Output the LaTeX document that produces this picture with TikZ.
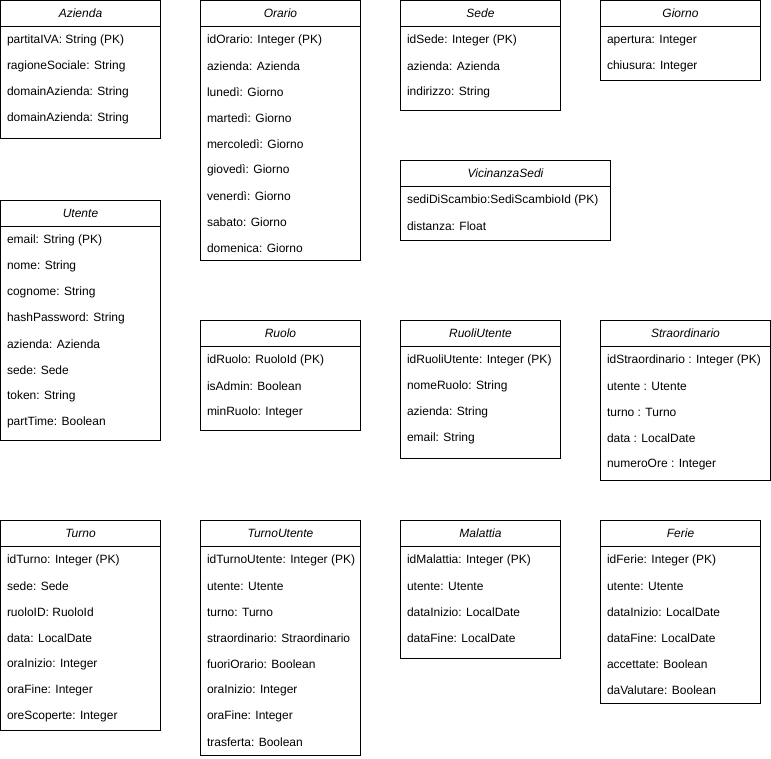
\documentclass[tikz,border=0pt]{standalone}
\usepackage{fontspec}
\setmainfont{Liberation Sans}
\usetikzlibrary{positioning}

\begin{document}
\begin{tikzpicture}[
				x = 1pt, y = 1pt, % one unit is one pixel
				line width = 1pt, % box border
				font=\fontsize{12}{14}\selectfont,
				classtitle/.style = {draw = black, fill = white, anchor = north west,
					minimum height = 26pt, inner sep = 0pt, outer sep = 0pt, font=\fontsize{12}{14}\selectfont\itshape},
				classbody/.style = {draw = black, fill = white, inner sep = 0pt, outer sep = 0pt},
				attr/.style = {anchor = west, inner sep = 0pt}
				]
				
				\useasboundingbox (0,0) rectangle (771,-758);
				
				% first row
				\node[classtitle, minimum width=160pt] (azienda) at (0.5,-0.5) {Azienda};
				\node[classbody, minimum width=160pt, minimum height=112pt, below=0pt of azienda] (aziendaBody) {};
				\foreach \a [count=\i from 0] in {partitaIVA: String (PK), ragioneSociale: String, domainAzienda: String, domainAzienda: String}
					\node[attr] (azienda\i) at ([xshift=6pt, yshift={-14-26*\i}]aziendaBody.north west) {\a};
				
				\node[classtitle, minimum width=160pt] (orario) at (200.5,-0.5) {Orario};
				\node[classbody, minimum width=160pt, minimum height=234pt, below=0pt of orario] (orarioBody) {};
				\foreach \a [count=\i from 0] in {idOrario: Integer (PK), azienda: Azienda, lunedì: Giorno, martedì: Giorno, mercoledì: Giorno, giovedì: Giorno, venerdì: Giorno, sabato: Giorno, domenica: Giorno}
					\node[attr] (orario\i) at ([xshift=6pt, yshift={-14-26*\i}]orarioBody.north west) {\a};
				
				\node[classtitle, minimum width=160pt] (sede) at (400.5,-0.5) {Sede};
				\node[classbody, minimum width=160pt, minimum height=84pt, below=0pt of sede] (sedeBody) {};
				\foreach \a [count=\i from 0] in {idSede: Integer (PK), azienda: Azienda, indirizzo: String}
					\node[attr] (sede\i) at ([xshift=6pt, yshift={-14-26*\i}]sedeBody.north west) {\a};
				
				\node[classtitle, minimum width=160pt] (giorno) at (600.5,-0.5) {Giorno};
				\node[classbody, minimum width=160pt, minimum height=54pt, below=0pt of giorno] (giornoBody) {};
				\foreach \a [count=\i from 0] in {apertura: Integer, chiusura: Integer}
					\node[attr] (giorno\i) at ([xshift=6pt, yshift={-14-26*\i}]giornoBody.north west) {\a};
				
				\node[classtitle, minimum width=210pt] (vicinanza) at (400.5,-160.5) {VicinanzaSedi};
				\node[classbody, minimum width=210pt, minimum height=54pt, below=0pt of vicinanza] (vicinanzaBody) {};
				\foreach \a [count=\i from 0] in {sediDiScambio:SediScambioId (PK), distanza: Float}
					\node[attr] (vicinanza\i) at ([xshift=6pt, yshift={-14-26*\i}]vicinanzaBody.north west) {\a};
				
				% second row
				\node[classtitle, minimum width=160pt] (utente) at (0.5,-200.5) {Utente};
				\node[classbody, minimum width=160pt, minimum height=214pt, below=0pt of utente] (utenteBody) {};
				\foreach \a [count=\i from 0] in {email: String (PK), nome: String, cognome: String, hashPassword: String, azienda: Azienda, sede: Sede, token: String, partTime: Boolean}
					\node[attr] (utente\i) at ([xshift=6pt, yshift={-14-26*\i}]utenteBody.north west) {\a};
				
				\node[classtitle, minimum width=160pt] (ruolo) at (200.5,-320.5) {Ruolo};
				\node[classbody, minimum width=160pt, minimum height=84pt, below=0pt of ruolo] (ruoloBody) {};
				\foreach \a [count=\i from 0] in {idRuolo: RuoloId (PK), isAdmin: Boolean, minRuolo: Integer}
					\node[attr] (ruolo\i) at ([xshift=6pt, yshift={-14-26*\i}]ruoloBody.north west) {\a};
				
				\node[classtitle, minimum width=160pt] (ruoliUtente) at (400.5,-320.5) {RuoliUtente};
				\node[classbody, minimum width=160pt, minimum height=112pt, below=0pt of ruoliUtente] (ruoliUtenteBody) {};
				\foreach \a [count=\i from 0] in {idRuoliUtente: Integer (PK), nomeRuolo: String, azienda: String, email: String}
					\node[attr] (ruoliUtente\i) at ([xshift=6pt, yshift={-14-26*\i}]ruoliUtenteBody.north west) {\a};
				
				\node[classtitle, minimum width=170pt] (straordinario) at (600.5,-320.5) {Straordinario};
				\node[classbody, minimum width=170pt, minimum height=134pt, below=0pt of straordinario] (straordinarioBody) {};
				\foreach \a [count=\i from 0] in {idStraordinario : Integer (PK), utente : Utente, turno : Turno, data : LocalDate, numeroOre : Integer}
					\node[attr] (straordinario\i) at ([xshift=6pt, yshift={-14-26*\i}]straordinarioBody.north west) {\a};
				
				% third row
				\node[classtitle, minimum width=160pt] (turno) at (0.5,-520.5) {Turno};
				\node[classbody, minimum width=160pt, minimum height=184pt, below=0pt of turno] (turnoBody) {};
				\foreach \a [count=\i from 0] in {idTurno: Integer (PK), sede: Sede, ruoloID: RuoloId, data: LocalDate, oraInizio: Integer, oraFine: Integer, oreScoperte: Integer}
					\node[attr] (turno\i) at ([xshift=6pt, yshift={-14-26*\i}]turnoBody.north west) {\a};
				
				\node[classtitle, minimum width=160pt] (turnoUtente) at (200.5,-520.5) {TurnoUtente};
				\node[classbody, minimum width=160pt, minimum height=209pt, below=0pt of turnoUtente] (turnoUtenteBody) {};
				\foreach \a [count=\i from 0] in {idTurnoUtente: Integer (PK), utente: Utente, turno: Turno, straordinario: Straordinario, fuoriOrario: Boolean, oraInizio: Integer, oraFine: Integer, trasferta: Boolean}
					\node[attr] (turnoUtente\i) at ([xshift=6pt, yshift={-14-26*\i}]turnoUtenteBody.north west) {\a};
				
				\node[classtitle, minimum width=160pt] (malattia) at (400.5,-520.5) {Malattia};
				\node[classbody, minimum width=160pt, minimum height=112pt, below=0pt of malattia] (malattiaBody) {};
				\foreach \a [count=\i from 0] in {idMalattia: Integer (PK), utente: Utente, dataInizio: LocalDate, dataFine: LocalDate}
					\node[attr] (malattia\i) at ([xshift=6pt, yshift={-14-26*\i}]malattiaBody.north west) {\a};
				
				\node[classtitle, minimum width=160pt] (ferie) at (600.5,-520.5) {Ferie};
				\node[classbody, minimum width=160pt, minimum height=157pt, below=0pt of ferie] (ferieBody) {};
				\foreach \a [count=\i from 0] in {idFerie: Integer (PK), utente: Utente, dataInizio: LocalDate, dataFine: LocalDate, accettate: Boolean, daValutare: Boolean}
					\node[attr] (ferie\i) at ([xshift=6pt, yshift={-14-26*\i}]ferieBody.north west) {\a};
			\end{tikzpicture}
\end{document}
